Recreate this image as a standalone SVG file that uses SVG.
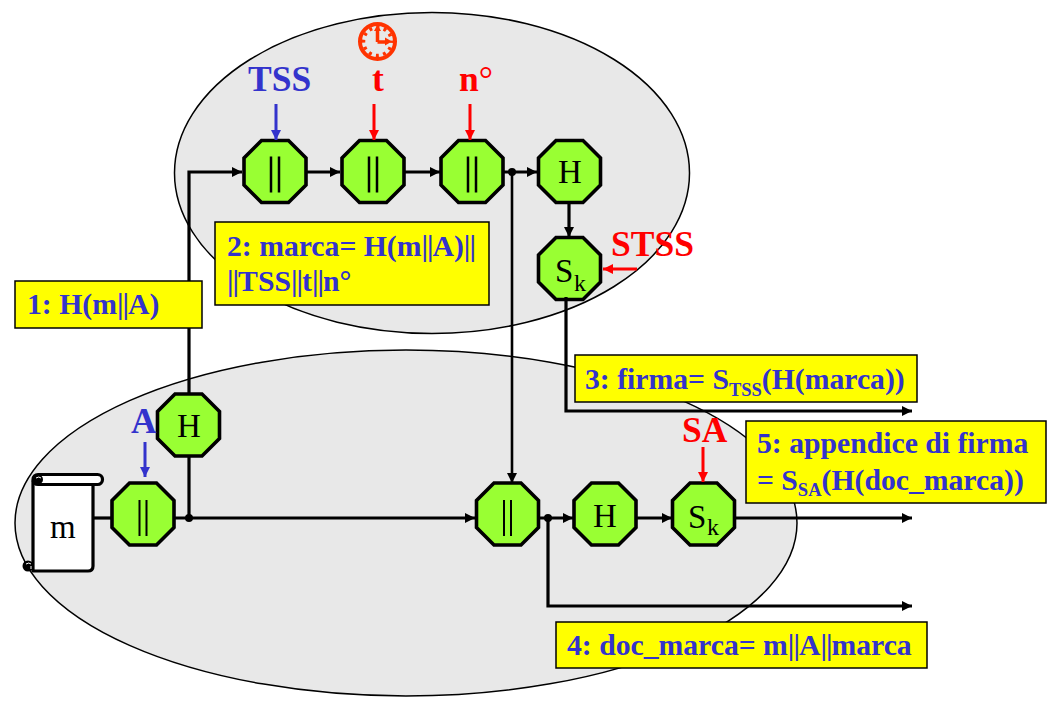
<svg xmlns="http://www.w3.org/2000/svg" width="1060" height="701" viewBox="0 0 1060 701">
<style>
text{font-family:"Liberation Serif","Times New Roman",serif}
.oct{fill:#99ff33;stroke:#000;stroke-width:3.6;stroke-linejoin:miter}
.nt{font-size:33px;fill:#000}
.sub{font-size:24px;fill:#000}
.lb{font-size:29.700px;font-weight:bold;fill:#3333cc}
.lbs{font-size:18.500px}
.p{letter-spacing:-1px}
.box{fill:#ffff00;stroke:#000;stroke-width:1.5}
.el{fill:#e8e8e8;stroke:#000;stroke-width:1.5}
.k{fill:none;stroke:#000;stroke-width:3.2}
.kt{fill:none;stroke:#000;stroke-width:2.6}
.r{fill:none;stroke:#ff0000;stroke-width:3}
.b{fill:none;stroke:#3333cc;stroke-width:3}
.red{font-weight:bold;fill:#ff0000;font-size:35.500px}
.blue{font-weight:bold;fill:#3333cc;font-size:35.500px}
.par{stroke:#000;stroke-width:2.500}
.part{stroke:#000;stroke-width:2}
</style>
<defs>
<polygon id="o" points="-13.500,-31 13.500,-31 31,-13.500 31,13.500 13.500,31 -13.500,31 -31,13.500 -31,-13.500"/>
<g id="pp"><use href="#o" class="oct"/><path class="par" d="M-4,-15V21M4,-15V21"/></g>
<g id="pq"><use href="#o" class="oct"/><path class="part" d="M-3.500,-14V22M3.500,-14V22"/></g>
<marker id="ak" markerUnits="userSpaceOnUse" markerWidth="12" markerHeight="12" refX="10" refY="5" orient="auto"><path d="M0,0L10,5L0,10z" fill="#000"/></marker>
<marker id="ar" markerUnits="userSpaceOnUse" markerWidth="12" markerHeight="12" refX="10" refY="5" orient="auto"><path d="M0,0L10,5L0,10z" fill="#ff0000"/></marker>
<marker id="ab" markerUnits="userSpaceOnUse" markerWidth="12" markerHeight="12" refX="10" refY="5" orient="auto"><path d="M0,0L10,5L0,10z" fill="#3333cc"/></marker>
</defs>
<g id="regions">
<ellipse class="el" cx="432" cy="173" rx="257.500" ry="160.500"/>
<ellipse class="el" cx="406" cy="523" rx="391" ry="173"/>
</g>
<g id="n-doc">
<path d="M33,481H93V566Q93,571 88,571H33z" fill="#fff" stroke="#000" stroke-width="3.200" stroke-linejoin="round"/>
<rect x="33" y="474.500" width="69.500" height="10" rx="5" fill="#fff" stroke="#000" stroke-width="3.200"/>
<circle cx="38" cy="479.500" r="5" fill="#000"/><path d="M36,478Q39,476 41,478" fill="none" stroke="#fff" stroke-width="1"/>
<circle cx="28" cy="566" r="5.500" fill="#000"/><path d="M26,564Q29,562 31,564M31,566V569" fill="none" stroke="#fff" stroke-width="1"/>
<text class="nt" x="50" y="538">m</text>
</g>
<g id="n-p1"><use href="#pp" x="275" y="171.500"/></g>
<g id="n-p2"><use href="#pp" x="373" y="171.500"/></g>
<g id="n-p3"><use href="#pp" x="472" y="171.500"/></g>
<g id="n-h1"><use href="#o" class="oct" x="569.500" y="171.500"/><text class="nt" x="558" y="183">H</text></g>
<g id="n-s1"><use href="#o" class="oct" x="569.500" y="268.500"/><text class="nt" x="555" y="282">S</text><text class="sub" x="574" y="291">k</text></g>
<g id="n-h2"><use href="#o" class="oct" x="188.500" y="425"/><text class="nt" x="177" y="437">H</text></g>
<g id="n-p4"><use href="#pq" x="143" y="514"/></g>
<g id="n-p5"><use href="#pq" x="507.500" y="514"/></g>
<g id="n-h3"><use href="#o" class="oct" x="605" y="514"/><text class="nt" x="593" y="527">H</text></g>
<g id="n-s2"><use href="#o" class="oct" x="703.500" y="514"/><text class="nt" x="688" y="528">S</text><text class="sub" x="707" y="535">k</text></g>
<g id="connectors">
<path class="k" d="M189,518V456M189,394V172H242" marker-end="url(#ak)"/>
<path class="k" d="M306,172H340" marker-end="url(#ak)"/>
<path class="k" d="M404,172H440" marker-end="url(#ak)"/>
<path class="k" d="M503,172H537" marker-end="url(#ak)"/>
<path class="kt" d="M512,172V483" marker-end="url(#ak)"/>
<path class="k" d="M569,203V237" marker-end="url(#ak)"/>
<path class="k" d="M566,297V411H912" marker-end="url(#ak)"/>
<path class="k" d="M94,518H112"/>
<path class="k" d="M174,518H475" marker-end="url(#ak)"/>
<path class="k" d="M538,518H573" marker-end="url(#ak)"/>
<path class="k" d="M636,518H672" marker-end="url(#ak)"/>
<path class="k" d="M735,518H912" marker-end="url(#ak)"/>
<path class="k" d="M548,518V606H912" marker-end="url(#ak)"/>
<circle cx="189" cy="518" r="4"/><circle cx="512" cy="172" r="4"/><circle cx="548" cy="518" r="4"/>
<path class="b" d="M276,104V140" marker-end="url(#ab)"/>
<path class="r" d="M374,104V140" marker-end="url(#ar)"/>
<path class="r" d="M470,104V140" marker-end="url(#ar)"/>
<path class="r" d="M637,269H603" marker-end="url(#ar)"/>
<path class="b" d="M145,442V477" marker-end="url(#ab)"/>
<path class="r" d="M703,447V482" marker-end="url(#ar)"/>
</g>
<g id="labels">
<text class="blue" x="248" y="91">TSS</text>
<text class="red" x="372" y="91">t</text>
<text x="459" y="91" class="red">n<tspan font-weight="normal">°</tspan></text>
<text class="red" x="611" y="256">STSS</text>
<text class="blue" x="131" y="433">A</text>
<text class="red" x="682" y="442">SA</text>
</g>
<g id="clock">
<circle cx="377.500" cy="41.500" r="17.500" fill="none" stroke="#ff3300" stroke-width="4"/>
<circle cx="377.500" cy="41.500" r="14" fill="none" stroke="#ff3300" stroke-width="3.500" stroke-dasharray="3 4.330" stroke-dashoffset="1.500"/>
<path d="M377.500,42V29M377.500,42H387" fill="none" stroke="#ff3300" stroke-width="3.500"/>
<path d="M377.500,24.500L381,31H374zM392,41.500L385,37.500V45.500z" fill="#ff3300"/>
</g>
<g id="box1"><rect class="box" x="15" y="281" width="187" height="47"/><text class="lb" x="27" y="314">1: H(m<tspan class="p">||</tspan>A)</text></g>
<g id="box2"><rect class="box" x="215" y="222" width="274" height="83"/><text class="lb" x="227" y="256">2: marca= H(m<tspan class="p">||</tspan>A)<tspan class="p">||</tspan></text><text class="lb" x="227" y="291"><tspan class="p">||</tspan>TSS<tspan class="p">||</tspan>t<tspan class="p">||</tspan>n°</text></g>
<g id="box3"><rect class="box" x="575" y="355" width="342" height="47"/><text class="lb" x="585" y="389">3: firma= S<tspan class="lbs" dy="7">TSS</tspan><tspan dy="-7">(H(marca))</tspan></text></g>
<g id="box4"><rect class="box" x="556" y="622" width="371" height="46"/><text class="lb" x="567" y="655">4: doc_marca= m<tspan class="p">||</tspan>A<tspan class="p">||</tspan>marca</text></g>
<g id="box5"><rect class="box" x="746" y="421" width="300" height="82"/><text class="lb" x="757" y="453">5: appendice di firma</text><text class="lb" x="757" y="490">= S<tspan class="lbs" dy="6">SA</tspan><tspan dy="-6">(H(doc_marca))</tspan></text></g>
</svg>
